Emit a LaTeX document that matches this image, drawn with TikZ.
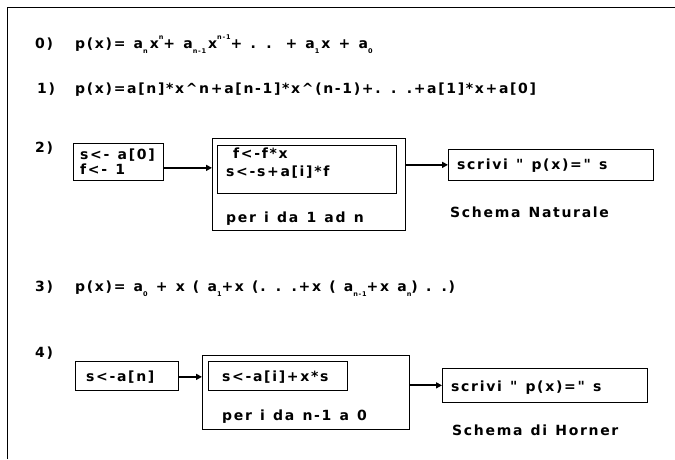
\documentclass[tikz,border=0pt]{standalone}
\usepackage{fontspec}
\usetikzlibrary{arrows.meta}
\newfontfamily\dfont{DejaVu Sans}[LetterSpace=12,WordSpace=1.25]
\newcommand\lowx[1]{\raisebox{-5pt}{\fontsize{6.5}{7}\selectfont #1}}
\newcommand\highx[1]{\raisebox{9pt}{\fontsize{6.5}{7}\selectfont #1}}
\begin{document}
\begin{tikzpicture}[x=1pt,y=-1pt,
  txt/.style={anchor=base west, inner sep=0pt, font=\dfont\bfseries\fontsize{14}{16}\selectfont},
  box/.style={draw, line width=0.7pt, inner sep=0pt, anchor=north west},
  arr/.style={line width=1.8pt, -{Triangle[length=6pt,width=6pt]}}]
\useasboundingbox (0,0) rectangle (675,459);
\draw[line width=0.9pt] (7,459) -- (7,7) -- (675,7);

% line 0
\node[txt] (n0) at (35,48) {0)};
\node[txt] (f0) at (75,48) {p(x)= a\lowx{n}\kern2pt x\highx{n}+ a\lowx{n-1}\kern2pt x\highx{n-1}+ . .\quad + a\lowx{1}\kern2pt x + a\lowx{0}};
% line 1
\node[txt] (n1) at (37,93) {1)};
\node[txt] (f1) at (75,93) {p(x)=a[n]*x\string^n+a[n-1]*x\string^(n-1)+. . .+a[1]*x+a[0]};

% line 2
\node[txt] (n2) at (35,152) {2)};
\node[box, minimum width=90, minimum height=37] (A) at (73,143) {};
\node[txt] (A1) at (80,159) {s<- a[0]};
\node[txt] (A2) at (80,174) {f<- 1};
\node[box, minimum width=193, minimum height=92] (L1) at (212,138) {};
\node[box, minimum width=179, minimum height=48] (I1) at (217,145) {};
\node[txt] (I1a) at (233,158) {f<-f*x};
\node[txt] (I1b) at (226,176) {s<-s+a[i]*f};
\node[txt] (P1) at (226,222) {per i da 1 ad n};
\node[box, minimum width=205, minimum height=31] (S1) at (448,149) {};
\node[txt] (S1t) at (457,169) {scrivi " p(x)=" s};
\node[txt] (N1) at (450,217) {Schema Naturale};
\draw[arr] ([yshift=-6pt]A.east) -- ([yshift=-6pt]A.east -| L1.west);
\draw[arr] (L1.east |- S1.west) -- (S1.west);

% line 3
\node[txt] (n3) at (35,291) {3)};
\node[txt] (f3) at (75,291) {p(x)= a\lowx{0} + x ( a\lowx{1}+x (. . .+x ( a\lowx{n-1}+x a\lowx{n}) . .)};

% line 4
\node[txt] (n4) at (35,357) {4)};
\node[box, minimum width=103, minimum height=29] (B) at (75,361) {};
\node[txt] (Bt) at (86,381) {s<-a[n]};
\node[box, minimum width=207, minimum height=74] (L2) at (202,355) {};
\node[box, minimum width=139, minimum height=29] (I2) at (208,361) {};
\node[txt] (I2t) at (222,381) {s<-a[i]+x*s};
\node[txt] (P2) at (222,420) {per i da n-1 a 0};
\node[box, minimum width=205, minimum height=34] (S2) at (442,368) {};
\node[txt] (S2t) at (451,391) {scrivi " p(x)=" s};
\node[txt] (N2) at (452,435) {Schema di Horner};
\draw[arr] ([yshift=-1pt]B.east) -- ([yshift=-1pt]B.east -| L2.west);
\draw[arr] (L2.east |- S2.west) -- (S2.west);
\end{tikzpicture}
\end{document}
